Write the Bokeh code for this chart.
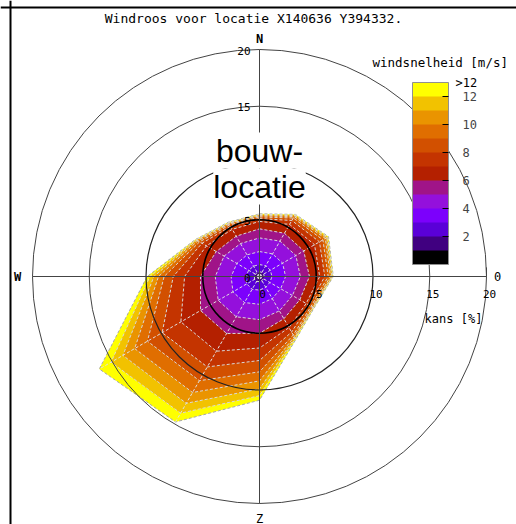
import numpy as np
from bokeh.plotting import figure
from bokeh.models import Range1d, ColorBar, LinearColorMapper, FixedTicker, Span
from bokeh.core.properties import value
from bokeh.embed import file_html
from bokeh.resources import INLINE

# ---- data -------------------------------------------------------------
title_text = "Windroos voor locatie X140636 Y394332."
directions = [0, 30, 60, 90, 120, 150, 180, 210, 240, 270, 300, 330]  # degrees from north
speed_classes = ["0-1", "1-2", "2-3", "3-4", "4-5", "5-6", "6-7", "7-8",
                 "8-9", "9-10", "10-11", "11-12", ">12"]
# cumulative frequency [%] per direction, up to and including each speed class
cum_000 = [0.13, 0.42, 1.05, 2.20, 3.40, 4.20, 4.85, 5.10, 5.25, 5.35, 5.42, 5.47, 5.52]
cum_030 = [0.13, 0.42, 1.10, 2.30, 3.60, 4.40, 5.30, 5.70, 5.95, 6.10, 6.20, 6.26, 6.32]
cum_060 = [0.13, 0.42, 1.10, 2.35, 3.70, 4.50, 5.60, 6.10, 6.45, 6.70, 6.85, 6.95, 7.02]
cum_090 = [0.13, 0.42, 1.10, 2.30, 3.60, 4.40, 5.30, 5.75, 6.05, 6.25, 6.38, 6.45, 6.50]
cum_120 = [0.13, 0.40, 1.05, 2.15, 3.35, 4.10, 4.75, 5.05, 5.25, 5.38, 5.45, 5.50, 5.55]
cum_150 = [0.13, 0.42, 1.10, 2.25, 3.50, 4.30, 5.20, 5.65, 5.95, 6.12, 6.23, 6.30, 6.40]
cum_180 = [0.14, 0.45, 1.20, 2.45, 3.80, 5.00, 6.30, 7.40, 8.40, 9.20, 9.90, 10.50, 10.90]
cum_210 = [0.15, 0.50, 1.30, 2.65, 4.10, 5.80, 7.60, 9.20, 10.60, 11.80, 12.90, 13.90, 14.80]
cum_240 = [0.15, 0.50, 1.30, 2.70, 4.20, 6.00, 8.00, 9.90, 11.40, 12.70, 13.90, 15.10, 16.30]
cum_270 = [0.14, 0.45, 1.20, 2.50, 3.90, 5.20, 6.60, 7.60, 8.40, 8.90, 9.30, 9.65, 9.90]
cum_300 = [0.13, 0.42, 1.10, 2.30, 3.60, 4.40, 5.40, 5.85, 6.10, 6.28, 6.40, 6.46, 6.52]
cum_330 = [0.13, 0.40, 1.05, 2.20, 3.35, 4.10, 4.80, 5.10, 5.25, 5.35, 5.42, 5.47, 5.52]

class_colors = ["#000000", "#400080", "#5a00d8", "#7c00fc", "#9410dc", "#a01488",
                "#b42000", "#c43400", "#d25000", "#e06e00", "#ea9400", "#f2c200", "#ffff00"]

ring_values = [5, 10, 15, 20]
axis_tick_values = [0, 5, 10, 15, 20]
axis_tick_labels = ["0", "5", "10", "15", "20"]
colorbar_ticks = [2, 4, 6, 8, 10, 12]
colorbar_top_label = ">12"

# ---- figure -----------------------------------------------------------
W, H = 516, 524
CX, CY = 259, 276   # centre of the rose in pixels from top-left
S = 11.35           # pixels per percent
p = figure(width=W, height=H, output_backend="svg", toolbar_location=None,
           x_range=Range1d(-CX / S, (W - CX) / S), y_range=Range1d(-(H - CY) / S, CY / S),
           x_axis_location=None, y_axis_location=None, min_border=0,
           outline_line_color=None, background_fill_color="white")
p.grid.grid_line_color = None

# frame lines (left and top)
p.add_layout(Span(location=(10 - CX) / S, dimension="height", line_color="black", line_width=2))
p.add_layout(Span(location=(CY - 7) / S, dimension="width", line_color="black", line_width=2))

cum = np.array([cum_000, cum_030, cum_060, cum_090, cum_120, cum_150,
                cum_180, cum_210, cum_240, cum_270, cum_300, cum_330])
theta = np.deg2rad(np.array(directions))

for k in reversed(range(len(speed_classes))):
    r = cum[:, k]
    xs = r * np.sin(theta)
    ys = r * np.cos(theta)
    p.patch(xs, ys, fill_color=class_colors[k],
            line_color="#a8a8a8" if k == len(speed_classes) - 1 else "#d8d8d8",
            line_dash="3 2", line_width=1)

r_out = cum[:, -1]
p.segment(x0=np.zeros(len(directions)), y0=np.zeros(len(directions)),
          x1=r_out * np.sin(theta), y1=r_out * np.cos(theta),
          line_color="#e0e0e0", line_dash="3 2", line_width=1)

# rings
p.circle(x=[0] * len(ring_values), y=[0] * len(ring_values), radius=ring_values,
         fill_color=None, line_color=["black", "#222222", "#444444", "#444444"],
         line_width=[1.6, 1.2, 1, 1])

# axes
p.segment(x0=[-20, 0], y0=[0, -20], x1=[20, 0], y1=[0, 20], line_color="#444444", line_width=1)
p.segment(x0=[20], y0=[0], x1=[20], y1=[0.8], line_color="#444444", line_width=1)

mono = value("DejaVu Sans Mono")
p.text(x=axis_tick_values, y=[0] * 5, text=axis_tick_labels, text_font=mono,
       text_font_size="11px", text_align="center", text_baseline="middle",
       x_offset=3, y_offset=17, text_color="black")
p.text(x=[0] * 5, y=axis_tick_values, text=axis_tick_labels, text_font=mono,
       text_font_size="11px", text_align="right", text_baseline="middle",
       x_offset=-9, y_offset=1, text_color="black")

p.text(x=[0], y=[20], text=["N"], text_font=mono, text_font_size="12px", text_font_style="bold",
       text_align="center", text_baseline="middle", y_offset=-11)
p.text(x=[-20], y=[0], text=["W"], text_font=mono, text_font_size="12px", text_font_style="bold",
       text_align="center", text_baseline="middle", x_offset=-15)
p.text(x=[0], y=[-20], text=["Z"], text_font=mono, text_font_size="12px",
       text_align="center", text_baseline="middle", y_offset=15)
p.text(x=[20], y=[0], text=["0"], text_font=mono, text_font_size="12px",
       text_align="center", text_baseline="middle", x_offset=11)
p.text(x=[20], y=[0], text=["kans [%]"], text_font=mono, text_font_size="12px",
       text_align="center", text_baseline="middle", x_offset=-33, y_offset=42)

# title
p.text(x=[0], y=[20], text=[title_text], text_font=mono, text_font_size="13px",
       text_align="center", text_baseline="middle", x_offset=-6, y_offset=-31)

# big label
big = value("Liberation Sans")
p.text(x=[0, 0], y=[20, 20], text=["bouw-", "locatie"], text_font=big, text_font_size="32px",
       text_align="center", text_baseline="middle", y_offset=[101, 137],
       background_fill_color="white", text_color="black")

# colour bar
mapper = LinearColorMapper(palette=class_colors, low=0, high=len(speed_classes))
cb = ColorBar(color_mapper=mapper, ticker=FixedTicker(ticks=colorbar_ticks),
              width=36, height=182, location=(412, H - 264), padding=0,
              background_fill_alpha=0, border_line_color=None, bar_line_color="#909090",
              major_tick_line_color="black", major_tick_in=6, major_tick_out=0,
              minor_tick_line_color=None,
              major_label_text_font="DejaVu Sans Mono", major_label_text_font_size="12px",
              label_standoff=14, title=None)
p.add_layout(cb, "center")
p.text(x=[20], y=[20], text=[colorbar_top_label], text_font=mono, text_font_size="12px",
       text_align="left", text_baseline="middle", x_offset=-31, y_offset=33)
p.text(x=[20], y=[20], text=["windsnelheid [m/s]"], text_font=mono, text_font_size="12.5px",
       text_align="left", text_baseline="middle", x_offset=-114, y_offset=13)

open("out.html", "w").write(file_html(p, INLINE))
